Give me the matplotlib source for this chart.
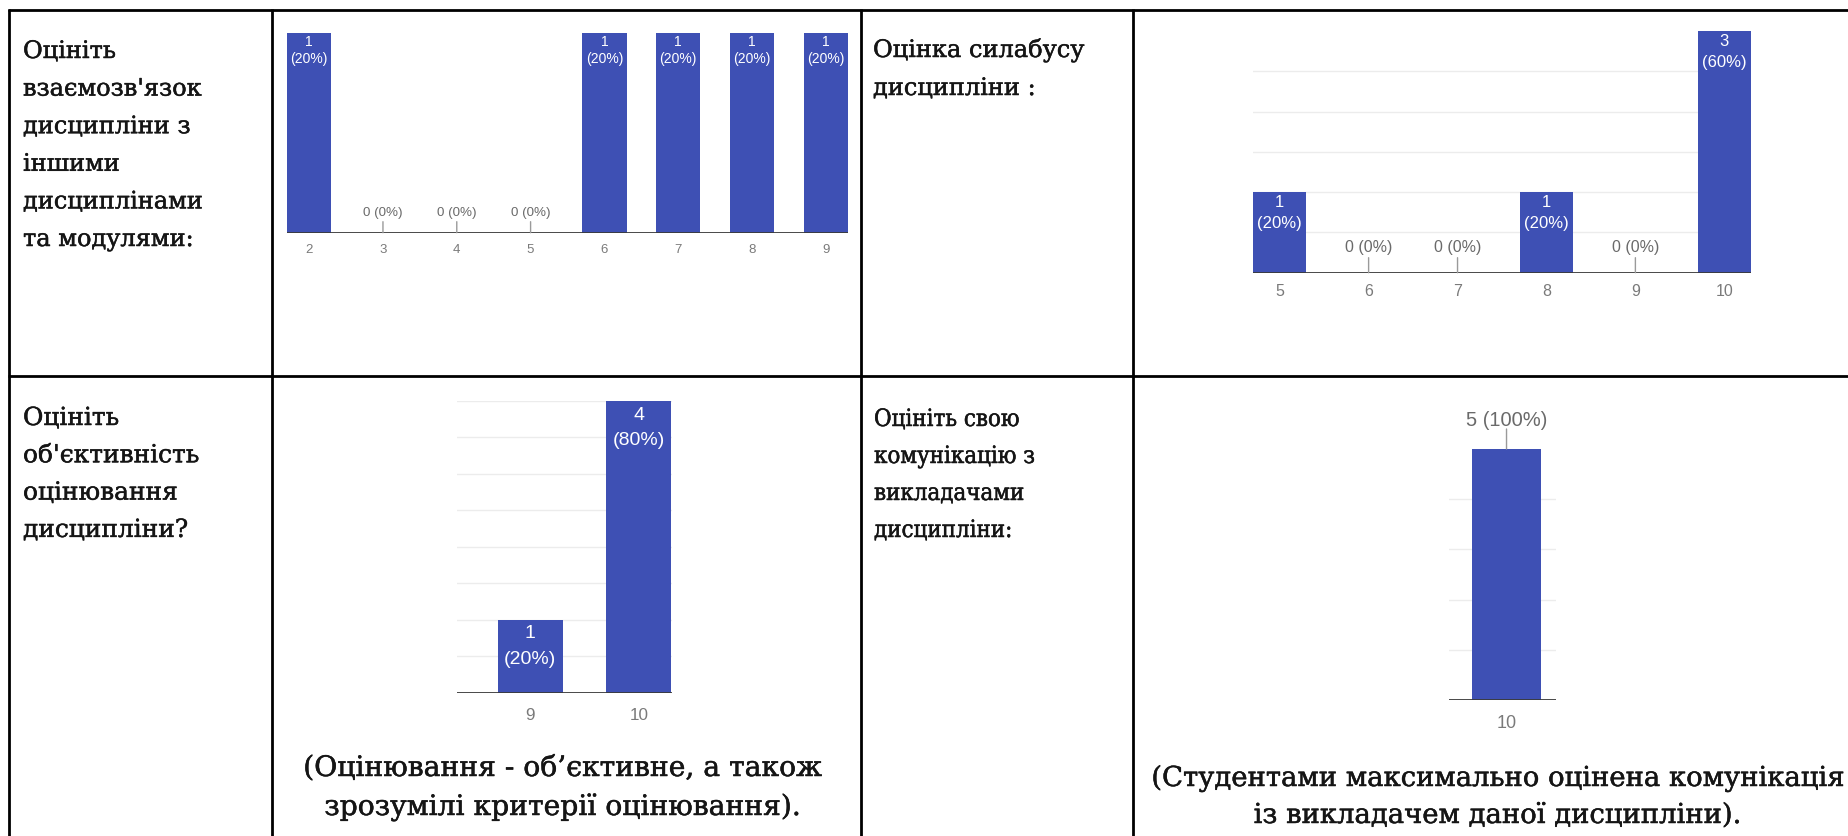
import matplotlib
matplotlib.use('Agg')
import matplotlib.pyplot as plt
from matplotlib import font_manager
from matplotlib.font_manager import FontProperties
import matplotlib.patheffects as pe

W, H, DPI = 1849, 836, 100

# ---------------- data ----------------
p1_cats = ['2', '3', '4', '5', '6', '7', '8', '9']
p1_vals = [1, 0, 0, 0, 1, 1, 1, 1]
p1_pcts = [20, 0, 0, 0, 20, 20, 20, 20]

p2_cats = ['5', '6', '7', '8', '9', '10']
p2_vals = [1, 0, 0, 1, 0, 3]
p2_pcts = [20, 0, 0, 20, 0, 60]

p3_cats = ['9', '10']
p3_vals = [1, 4]
p3_pcts = [20, 80]

p4_cats = ['10']
p4_vals = [5]
p4_pcts = [100]

q1_lines = ['Оцініть', "взаємозв'язок", 'дисципліни з', 'іншими', 'дисциплінами', 'та модулями:']
q2_lines = ['Оцінка силабусу', 'дисципліни :']
q3_lines = ['Оцініть', "об'єктивність", 'оцінювання', 'дисципліни?']
q4_lines = ['Оцініть свою', 'комунікацію з', 'викладачами', 'дисципліни:']
cap3_lines = ['(Оцінювання - об’єктивне, а також', 'зрозумілі критерії оцінювання).']
cap4_lines = ['(Студентами максимально оцінена комунікація', 'із викладачем даної дисципліни).']

BAR = '#3e50b4'
SANS = ['Liberation Sans', 'DejaVu Sans']

# pick fonts
serif_path = font_manager.findfont(FontProperties(family='DejaVu Serif'))
cond_path = None
for f in font_manager.fontManager.ttflist:
    fn = f.fname.replace('-', '').lower()
    if 'dejavuserifcondensed.ttf' in fn:
        cond_path = f.fname
        break
if cond_path is None:
    cond_path = font_manager.findfont(FontProperties(family='Liberation Serif'))

fig = plt.figure(figsize=(W / DPI, H / DPI), dpi=DPI)
fig.patch.set_facecolor('white')
renderer = fig.canvas.get_renderer()

# overlay axes in pixel coordinates for table + text
ov = fig.add_axes([0, 0, 1, 1])
ov.set_xlim(0, W)
ov.set_ylim(H, 0)
ov.axis('off')

LW = 2.0
ov.plot([8, W], [10, 10], color='black', lw=LW, solid_capstyle='butt')
ov.plot([8, W], [375.5, 375.5], color='black', lw=LW, solid_capstyle='butt')
for xv in [9, 271.5, 861, 1133]:
    ov.plot([xv, xv], [9, H], color='black', lw=LW, solid_capstyle='butt')

EFF = [pe.withStroke(linewidth=0.35, foreground='#151515')]


def put_lines(lines, x, y0, step, path, fit_idx, target_w, ha='left', size0=17.0):
    texts = []
    for i, t in enumerate(lines):
        tx = ov.text(x, y0 + i * step, t, fontproperties=FontProperties(fname=path, size=size0),
                     color='#151515', ha=ha, va='baseline', path_effects=EFF)
        texts.append(tx)
    w = texts[fit_idx].get_window_extent(renderer).width
    size = size0 * target_w / w
    for tx in texts:
        tx.set_fontsize(size)
    return size

put_lines(q1_lines, 23, 58, 37.6, serif_path, 4, 180)
put_lines(q2_lines, 873, 57, 38, serif_path, 0, 211)
put_lines(q3_lines, 23, 425, 37.3, serif_path, 1, 176)
put_lines(q4_lines, 874, 426, 37, cond_path, 1, 161)
put_lines(cap3_lines, 563, 776, 39, serif_path, 0, 518, ha='center')
put_lines(cap4_lines, 1498, 786, 37, serif_path, 0, 693, ha='center')


def px2pt(p):
    return p * 72.0 / DPI


def panel(x0, x1, ytop, ybase, cats, vals, pcts, xlim, ymax, grid_vals,
          lab_fs, tick_fs, zero_fs, off1, off2, tick_off, zero_off, zero_len,
          outside=False, width=0.6):
    ax = fig.add_axes([x0 / W, 1 - ybase / H, (x1 - x0) / W, (ybase - ytop) / H])
    ax.set_facecolor('none')
    n = len(cats)
    xs = list(range(n))
    ax.bar(xs, vals, width=width, color=BAR, zorder=3)
    ax.set_xlim(*xlim)
    ax.set_ylim(0, ymax)
    for s in ax.spines.values():
        s.set_visible(False)
    ax.set_yticks([])
    for g in grid_vals:
        ax.axhline(g, color='#ececec', lw=1.0, zorder=1)
    ax.axhline(0, color='#3a3a3a', lw=1.3, zorder=4)
    ax.set_xticks(xs)
    ax.set_xticklabels(cats, family=SANS, fontsize=tick_fs, color='#7a7a7a')
    ax.tick_params(axis='x', length=0, pad=px2pt(tick_off))
    for lbl in ax.get_xticklabels():
        lbl.set_va('center')
    for i, (v, p) in enumerate(zip(vals, pcts)):
        if v == 0 or outside:
            ax.annotate('', xy=(i, v), xytext=(0, px2pt(zero_len)), textcoords='offset points',
                        arrowprops=dict(arrowstyle='-', color='#9a9a9a', lw=1.0,
                                        shrinkA=0, shrinkB=0), zorder=5)
            ax.annotate(f'{v} ({p}%)', xy=(i, v), xytext=(0, px2pt(zero_off)),
                        textcoords='offset points', ha='center', va='center',
                        family=SANS, fontsize=zero_fs, color='#6a6a6a', zorder=5)
        else:
            ax.annotate(f'{v}', xy=(i, v), xytext=(0, -px2pt(off1)),
                        textcoords='offset points', ha='center', va='center',
                        family=SANS, fontsize=lab_fs, color='white', zorder=5)
            ax.annotate(f'({p}%)', xy=(i, v), xytext=(0, -px2pt(off2)),
                        textcoords='offset points', ha='center', va='center',
                        family=SANS, fontsize=lab_fs, color='white', zorder=5)
    return ax


# panel 1
panel(287, 848, 32.5, 232.7, p1_cats, p1_vals, p1_pcts, (-0.3, 7.3), 1, [],
      lab_fs=10, tick_fs=9.5, zero_fs=9.6, off1=9, off2=27, tick_off=17,
      zero_off=20, zero_len=11)
# panel 2
panel(1253, 1751, 31, 272.7, p2_cats, p2_vals, p2_pcts, (-0.3, 5.3), 3,
      [0.5, 1, 1.5, 2, 2.5],
      lab_fs=12, tick_fs=11.5, zero_fs=11.5, off1=10.7, off2=31, tick_off=18.5,
      zero_off=25, zero_len=15)
# panel 3
panel(457.5, 672, 400.7, 692.7, p3_cats, p3_vals, p3_pcts, (-0.668, 1.305), 4,
      [0.5, 1, 1.5, 2, 2.5, 3, 3.5, 4],
      lab_fs=14, tick_fs=12.3, zero_fs=12, off1=14.3, off2=39.5, tick_off=22.3,
      zero_off=25, zero_len=15)
# panel 4
panel(1449, 1556, 449, 700, p4_cats, p4_vals, p4_pcts, (-0.5, 0.43), 5, [1, 2, 3, 4],
      lab_fs=14, tick_fs=13, zero_fs=14.5, off1=14, off2=40, tick_off=24,
      zero_off=29, zero_len=20, outside=True)

fig.savefig('out.png', dpi=DPI, facecolor='white')
